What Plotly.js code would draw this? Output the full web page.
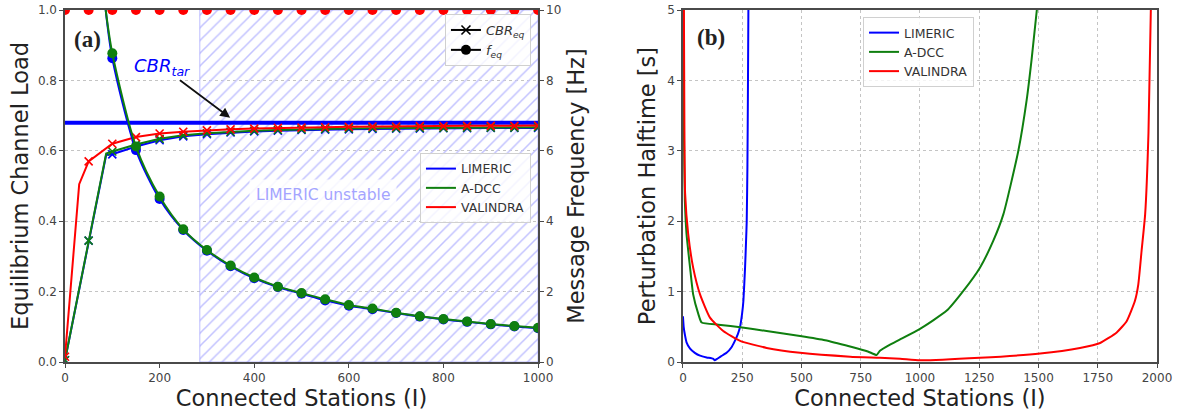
<!DOCTYPE html>
<html>
<head>
<meta charset="utf-8">
<script src="https://cdn.plot.ly/plotly-3.0.1.min.js"></script>
<style>html,body{margin:0;padding:0;background:#fff;}#chart{width:1179px;height:415px;}</style>
</head>
<body>
<div id="chart"></div>
<script>
// ---------- Panel (a) data ----------
const stations = [0,50,100,150,200,250,300,350,400,450,500,550,600,650,700,750,800,850,900,950,1000];

const cbrAdccX = [0,50,87,100,150,200,250,300,350,400,450,500,550,600,650,700,750,800,850,900,950,1000];
const cbrAdccY = [0.005,0.345,0.592,0.598,0.618,0.634,0.644,0.650,0.654,0.657,0.659,0.661,0.662,0.663,0.664,0.664,0.665,0.665,0.666,0.666,0.666,0.667];
const cbrLimericX = [0,50,87,100,150,200,250,300,350,400,450,500,550,600,650,700,750,800,850,900,950,1000];
const cbrLimericY = [0.005,0.345,0.588,0.590,0.612,0.630,0.641,0.647,0.652,0.655,0.657,0.659,0.660,0.661,0.662,0.663,0.663,0.664,0.664,0.665,0.665,0.665];
const cbrValindraX = [0,30,50,100,150,200,250,300,350,400,450,500,550,600,650,700,750,800,850,900,950,1000];
const cbrValindraY = [0.015,0.505,0.570,0.620,0.639,0.649,0.654,0.658,0.661,0.663,0.665,0.666,0.667,0.668,0.669,0.669,0.670,0.670,0.671,0.671,0.671,0.672];

// below ~86 stations A-DCC / LIMERIC stay at the 10 Hz ceiling (hidden under the VALINDRA dots)
const freqAdccX = [86,100,150,200,250,300,350,400,450,500,550,600,650,700,750,800,850,900,950,1000];
const freqAdccY = [10,8.77,6.12,4.70,3.77,3.18,2.74,2.40,2.14,1.96,1.78,1.62,1.52,1.40,1.30,1.22,1.15,1.08,1.02,0.97];
const freqLimericX = [86,100,150,200,250,300,350,400,450,500,550,600,650,700,750,800,850,900,950,1000];
const freqLimericY = [10,8.63,6.02,4.63,3.75,3.16,2.72,2.38,2.13,1.94,1.75,1.60,1.50,1.39,1.29,1.21,1.14,1.07,1.01,0.96];
const freqValindraY = [10,10,10,10,10,10,10,10,10,10,10,10,10,10,10,10,10,10,10,10,10];

const cbrTarget = 0.68;
const limericUnstableFrom = 285;

// ---------- Panel (b) data ----------
const halfLimericX = [0,3,8,15,30,50,72,100,128,134,142,160,184,205,219,232,241,250,255,262,266,269,272,274,276];
const halfLimericY = [0.65,0.5,0.39,0.28,0.19,0.13,0.09,0.065,0.045,0.025,0.04,0.08,0.13,0.21,0.3,0.4,0.5,0.7,0.87,1.34,1.7,2.0,2.8,3.8,5.0];
const halfAdccX = [2,4,8,15,30,43,65,79,150,250,353,494,600,705,780,817,831,870,916,1000,1113,1183,1253,1309,1352,1415,1450,1471,1493];
const halfAdccY = [5.0,3.3,2.29,1.82,1.34,0.96,0.68,0.56,0.53,0.49,0.44,0.37,0.31,0.22,0.15,0.10,0.16,0.24,0.32,0.47,0.73,1.01,1.34,1.72,2.1,3.0,3.72,4.3,5.0];
const halfValindraX = [4,6,9,22,43,72,114,170,241,353,494,705,831,916,1000,1253,1507,1675,1760,1830,1872,1907,1921,1935,1950,1964,1974];
const halfValindraY = [5.0,3.4,2.4,1.82,1.34,0.96,0.63,0.44,0.30,0.20,0.13,0.076,0.06,0.047,0.024,0.06,0.12,0.2,0.27,0.42,0.58,0.87,1.1,1.58,2.1,3.25,5.0];

const methods = ['LIMERIC','A-DCC','VALINDRA'];
const colors = {LIMERIC:'#0000ff','A-DCC':'#0f7f0f',VALINDRA:'#ff0000'};

// marker only at the sampled stations (multiples of 50)
const mSize = (xs, s) => xs.map(v => (v % 50 === 0 ? s : 0));

const traces = [];
// hatched unstable region
traces.push({
  x:[limericUnstableFrom,1000,1000,limericUnstableFrom,limericUnstableFrom],
  y:[0,0,1,1,0], xaxis:'x', yaxis:'y', mode:'lines', fill:'toself',
  line:{color:'rgba(160,160,255,0.7)', width:1},
  fillcolor:'rgba(0,0,0,0)',
  fillpattern:{shape:'/', fgcolor:'#c2c2ff', bgcolor:'rgba(255,255,255,0)', size:9, solidity:0.17},
  hoverinfo:'skip', showlegend:false
});
// CBR target
traces.push({x:[0,1000], y:[cbrTarget,cbrTarget], xaxis:'x', yaxis:'y', mode:'lines',
  line:{color:'#0000ff', width:4}, showlegend:false});

function cbrTrace(x,y,c){
  return {x:x, y:y, xaxis:'x', yaxis:'y', mode:'lines+markers', showlegend:false,
    line:{color:c, width:2},
    marker:{symbol:'x-thin', size:mSize(x,8), color:c, opacity:1, line:{color:c, width:1.6}}};
}
function freqTrace(x,y,c,mode){
  return {x:x, y:y, xaxis:'x', yaxis:'y2', mode:mode, showlegend:false,
    line:{color:c, width:2, shape:'spline', smoothing:0.8},
    marker:{symbol:'circle', size:mSize(x,10), color:c, opacity:1, line:{width:0}}};
}
traces.push(cbrTrace(cbrLimericX, cbrLimericY, colors.LIMERIC));
traces.push(cbrTrace(cbrAdccX, cbrAdccY, colors['A-DCC']));
traces.push(cbrTrace(cbrValindraX, cbrValindraY, colors.VALINDRA));
traces.push(freqTrace(freqLimericX, freqLimericY, colors.LIMERIC, 'lines+markers'));
traces.push(freqTrace(freqAdccX, freqAdccY, colors['A-DCC'], 'lines+markers'));
traces.push(freqTrace(stations, freqValindraY, colors.VALINDRA, 'markers'));

// panel b
[[halfLimericX,halfLimericY,'LIMERIC'],[halfAdccX,halfAdccY,'A-DCC'],[halfValindraX,halfValindraY,'VALINDRA']].forEach(([x,y,m])=>{
  traces.push({x:x, y:y, xaxis:'x2', yaxis:'y3', mode:'lines', showlegend:false,
    line:{color:colors[m], width:2, shape:'spline', smoothing:0.5}});
});

// legend entries
traces.push({x:[null], y:[null], xaxis:'x', yaxis:'y', mode:'lines+markers', legend:'legend',
  name:'<i>CBR<sub>eq</sub></i>', line:{color:'black', width:2},
  marker:{symbol:'x-thin', size:9, color:'black', line:{color:'black', width:1.6}}});
traces.push({x:[null], y:[null], xaxis:'x', yaxis:'y', mode:'lines+markers', legend:'legend',
  name:'<i>f<sub>eq</sub></i>', line:{color:'black', width:2},
  marker:{symbol:'circle', size:10, color:'black'}});
methods.forEach(m=>{
  traces.push({x:[null], y:[null], xaxis:'x', yaxis:'y', mode:'lines', legend:'legend2',
    name:m, line:{color:colors[m], width:2}});
});
methods.forEach(m=>{
  traces.push({x:[null], y:[null], xaxis:'x2', yaxis:'y3', mode:'lines', legend:'legend3',
    name:m, line:{color:colors[m], width:2}});
});

const axisLine = '#4a4a4a';
const tickFont = {family:'DejaVu Sans', size:12, color:'#444'};
const titleFont = {family:'DejaVu Sans', size:22.5, color:'#222'};
const baseAxis = {showline:true, linecolor:axisLine, linewidth:1.6, ticks:'outside', ticklen:4,
  tickcolor:axisLine, tickfont:tickFont, zeroline:false, fixedrange:true};
const legendBase = {bgcolor:'rgba(255,255,255,0.8)', bordercolor:'#d0d0d0', borderwidth:1,
  font:{family:'DejaVu Sans', size:12.5, color:'#333'}, tracegroupgap:0, itemwidth:30};

const layout = {
  width:1179, height:415,
  margin:{l:65, r:22, t:10, b:53},
  paper_bgcolor:'white', plot_bgcolor:'white',
  font:{family:'DejaVu Sans', color:'#333'},
  xaxis:Object.assign({}, baseAxis, {domain:[0,0.4332], anchor:'y', range:[0,1000], dtick:200, mirror:true,
    showgrid:false, title:{text:'Connected Stations (I)', font:titleFont, standoff:4}}),
  yaxis:Object.assign({}, baseAxis, {domain:[0,1], anchor:'x', range:[0,1], dtick:0.2, tickformat:'.1f',
    showgrid:true, gridcolor:'#c4c4c4', griddash:'dot', gridwidth:1,
    title:{text:'Equilibrium Channel Load', font:titleFont, standoff:3}}),
  yaxis2:Object.assign({}, baseAxis, {overlaying:'y', anchor:'x', side:'right', range:[0,10], dtick:2,
    showgrid:false, title:{text:'Message Frequency [Hz]', font:titleFont, standoff:8}}),
  xaxis2:Object.assign({}, baseAxis, {domain:[0.5659,1], anchor:'y3', range:[0,2000], dtick:250, mirror:true,
    showgrid:true, gridcolor:'#c4c4c4', griddash:'dot', gridwidth:1,
    title:{text:'Connected Stations (I)', font:titleFont, standoff:4}}),
  yaxis3:Object.assign({}, baseAxis, {domain:[0,1], anchor:'x2', range:[0,5], dtick:1, mirror:true,
    showgrid:true, gridcolor:'#c4c4c4', griddash:'dot', gridwidth:1,
    title:{text:'Perturbation Halftime [s]', font:titleFont, standoff:5}}),
  legend:Object.assign({}, legendBase, {x:0.4267, y:0.9886, xanchor:'right', yanchor:'top',
    font:{family:'DejaVu Sans', size:13, color:'#333', style:'italic'}}),
  legend2:Object.assign({}, legendBase, {x:0.4267, y:0.5938, xanchor:'right', yanchor:'top'}),
  legend3:Object.assign({}, legendBase, {x:0.7308, y:0.9801, xanchor:'left', yanchor:'top'}),
  annotations:[
    {xref:'x', yref:'y', x:48, y:0.915, text:'<b>(a)</b>', showarrow:false,
      font:{family:'Liberation Serif', size:23, color:'#222'}},
    {xref:'x2', yref:'y3', x:118, y:4.61, text:'<b>(b)</b>', showarrow:false,
      font:{family:'Liberation Serif', size:23, color:'#222'}},
    {xref:'x', yref:'y', x:349, y:0.694, axref:'x', ayref:'y', ax:205, ay:0.839,
      text:'<i>CBR<sub>tar</sub></i>', showarrow:true, arrowhead:2, arrowsize:1.1, arrowwidth:1.8,
      arrowcolor:'#111', font:{family:'DejaVu Sans', size:18, color:'#0000ff'}},
    {xref:'x', yref:'y', x:545, y:0.475, text:'LIMERIC unstable', showarrow:false,
      bgcolor:'rgba(255,255,255,0.85)', borderpad:6,
      font:{family:'DejaVu Sans', size:15.5, color:'#a4a4ff'}}
  ]
};

Plotly.newPlot('chart', traces, layout, {staticPlot:true, displayModeBar:false});
</script>
</body>
</html>
